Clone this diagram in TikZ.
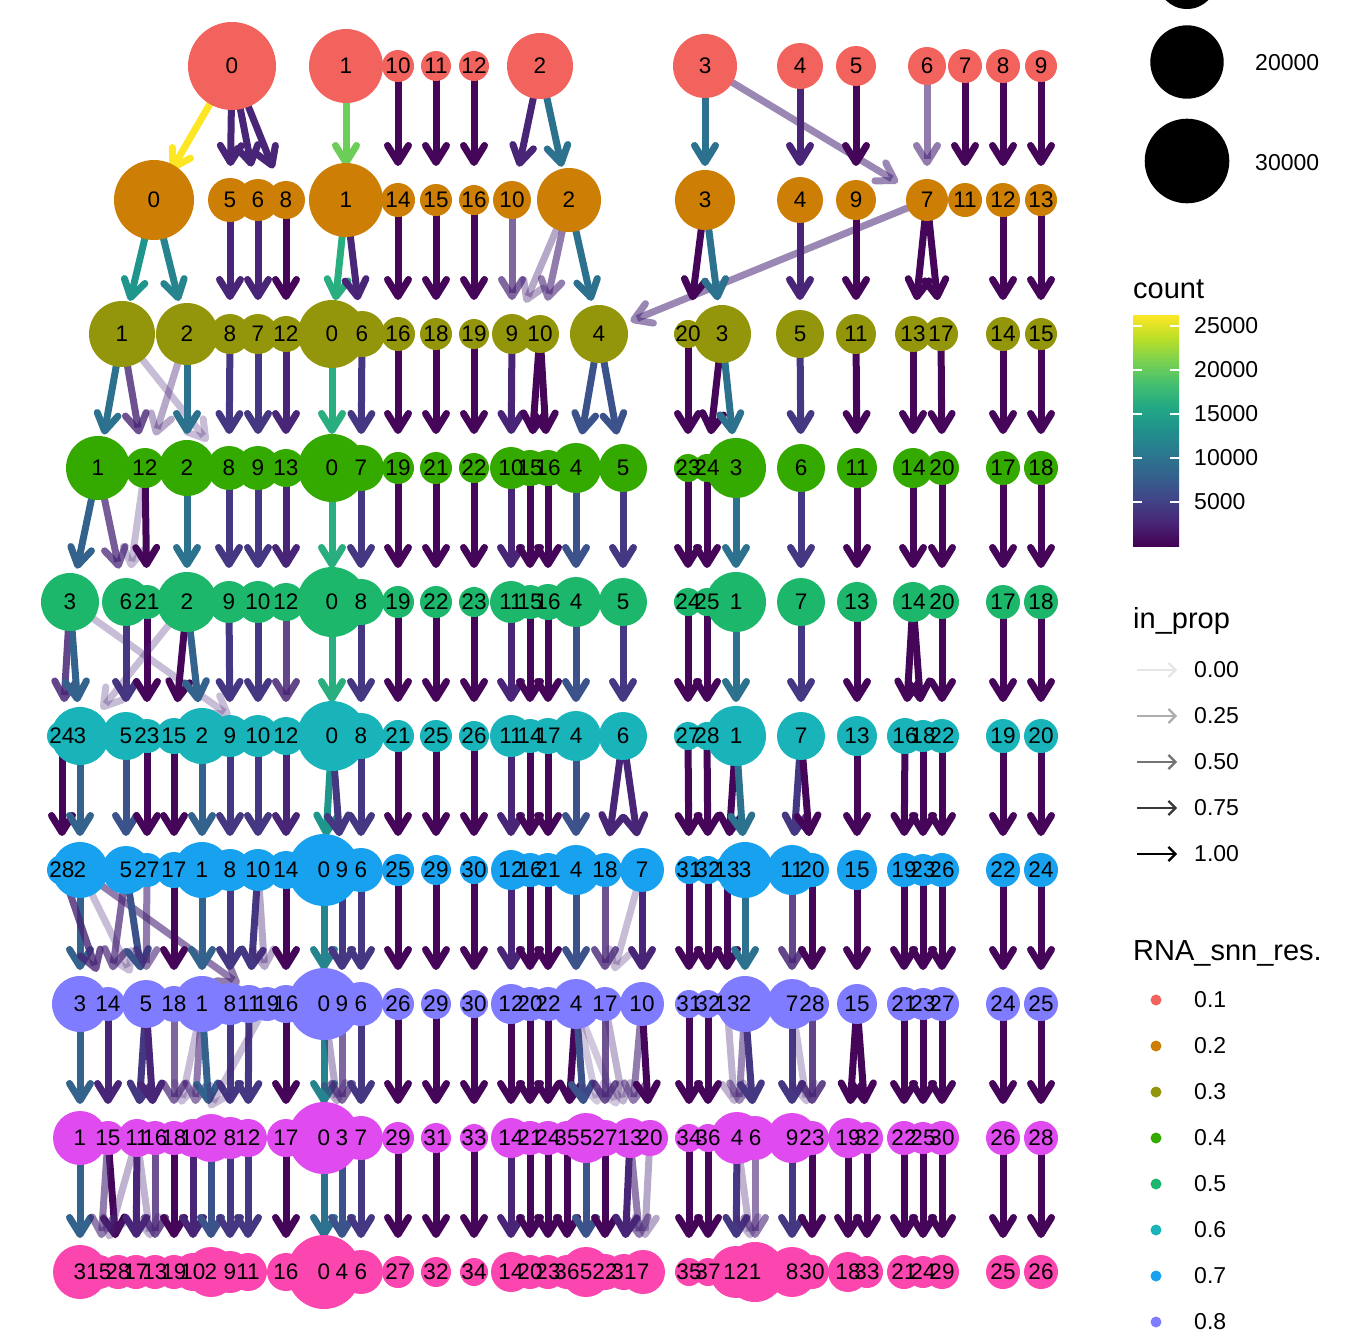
\documentclass[tikz,border=0pt]{standalone}
\usepackage{fontspec}
\setmainfont{Liberation Sans}
\usetikzlibrary{arrows.meta}
% row fills
\definecolor{rA}{HTML}{F3635E}
\definecolor{rB}{HTML}{CD7E05}
\definecolor{rC}{HTML}{93960A}
\definecolor{rD}{HTML}{34A900}
\definecolor{rE}{HTML}{1CB76B}
\definecolor{rF}{HTML}{18B4BA}
\definecolor{rG}{HTML}{17A1EF}
\definecolor{rH}{HTML}{807CFF}
\definecolor{rI}{HTML}{DF4BEF}
\definecolor{rJ}{HTML}{FB46B0}
% edge colours (viridis)
\definecolor{c0}{HTML}{45065A}
\definecolor{c1}{HTML}{482576}
\definecolor{c2}{HTML}{453781}
\definecolor{c3}{HTML}{3B528B}
\definecolor{c4}{HTML}{33638D}
\definecolor{c5}{HTML}{2C728E}
\definecolor{c6}{HTML}{25848E}
\definecolor{c7}{HTML}{1F968B}
\definecolor{c8}{HTML}{29AF7F}
\definecolor{c9}{HTML}{6CCE59}
\definecolor{c10}{HTML}{FDE725}
\definecolor{v0}{HTML}{440154}
\definecolor{v1}{HTML}{482576}
\definecolor{v2}{HTML}{414487}
\definecolor{v3}{HTML}{35608D}
\definecolor{v4}{HTML}{2A788E}
\definecolor{v5}{HTML}{21908C}
\definecolor{v6}{HTML}{22A884}
\definecolor{v7}{HTML}{43BF71}
\definecolor{v8}{HTML}{7AD151}
\definecolor{v9}{HTML}{BBDF27}
\definecolor{v10}{HTML}{FDE725}
\pgfdeclareverticalshading{viridis}{100bp}{color(0bp)=(v0); color(25bp)=(v0); color(30bp)=(v1); color(35bp)=(v2); color(40bp)=(v3); color(45bp)=(v4); color(50bp)=(v5); color(55bp)=(v6); color(60bp)=(v7); color(65bp)=(v8); color(70bp)=(v9); color(75bp)=(v10); color(100bp)=(v10)}
\tikzset{
  nd/.style={circle, inner sep=0pt, draw=none},
  lb/.style={font=\fontsize{22.5}{22.5}\selectfont, inner sep=0pt, text=black},
  edge/.style={line width=7pt, shorten >=34pt, -{Straight Barb[length=17pt,width=21pt,round]}},
  legtitle/.style={font=\fontsize{29}{29}\selectfont, inner sep=0pt, anchor=base west},
  legtext/.style={font=\fontsize{23}{23}\selectfont, inner sep=0pt, anchor=west},
  legarrow/.style={line width=2.2pt, -{Straight Barb[length=7pt,width=14pt]}},
}
% node lists: name/x/radius
\def\LA{0/232/44, 1/346/37, 10/398/16, 11/436/15, 12/474/15, 2/540/33, 3/705/32, 4/800/23, 5/856/20, 6/927/19, 7/965/17, 8/1003/17, 9/1041/16}
\def\LB{0/154/40, 5/230/22, 6/258/21, 8/286/19, 1/346/37, 14/398/17, 15/436/16, 16/474/15, 10/512/19, 2/569/32, 3/705/30, 4/800/23, 9/856/20, 7/927/21, 11/965/17, 12/1003/17, 13/1041/16}
\def\LC{1/122/33, 2/187/31, 8/230/20, 7/258/20, 12/286/18, 0/332/34, 6/362/23, 16/398/17, 18/436/16, 19/474/15, 9/512/20, 10/540/19, 4/599/29, 20/688/14, 3/722/29, 5/800/24, 11/856/20, 13/913/18, 17/941/17, 14/1003/17, 15/1041/16}
\def\LD{1/98/32, 12/145/20, 2/187/28, 8/229/22, 9/258/22, 13/286/19, 0/332/34, 7/361/23, 19/398/16, 21/436/16, 22/474/15, 10/511/21, 15/530/18, 16/548/18, 4/576/25, 5/623/24, 23/688/14, 24/707/14, 3/736/30, 6/801/24, 11/857/20, 14/913/20, 20/942/17, 17/1003/17, 18/1041/17}
\def\LE{3/70/29, 6/126/24, 21/147/17, 2/187/30, 9/229/21, 10/258/21, 12/286/19, 0/332/35, 8/361/23, 19/398/16, 22/436/16, 23/474/15, 11/511/21, 15/530/17, 16/548/18, 4/576/25, 5/623/24, 24/688/14, 25/707/14, 1/736/30, 7/801/24, 13/857/20, 14/913/20, 20/942/17, 17/1003/17, 18/1041/17}
\def\LF{24/62/15, 3/80/29, 5/126/24, 23/147/17, 15/174/18, 2/202/28, 9/230/21, 10/258/21, 12/286/19, 0/332/35, 8/361/23, 21/398/16, 25/436/16, 26/474/15, 11/511/21, 14/530/17, 17/548/18, 4/576/25, 6/623/24, 27/688/14, 28/707/14, 1/736/30, 7/801/24, 13/857/20, 16/905/18, 18/923/16, 22/942/17, 19/1003/17, 20/1041/17}
\def\LG{28/62/15, 2/80/28, 5/126/24, 27/147/17, 17/174/18, 1/202/28, 8/230/21, 10/258/21, 14/286/19, 0/324/36, 9/342/20, 6/361/22, 25/398/16, 29/436/15, 30/474/14, 12/511/20, 16/530/17, 21/548/17, 4/576/25, 18/605/17, 7/642/22, 31/689/14, 32/708/14, 13/727/14, 3/745/28, 11/792/25, 20/812/17, 15/857/20, 19/904/17, 23/923/16, 26/942/17, 22/1003/17, 24/1041/17}
\def\LH{3/80/28, 14/108/17, 5/146/24, 18/174/18, 1/202/28, 8/230/21, 11/249/19, 19/267/17, 16/286/19, 0/324/36, 9/342/20, 6/361/22, 26/398/16, 29/436/15, 30/474/14, 12/511/20, 20/530/17, 22/548/17, 4/576/25, 17/605/17, 10/642/22, 31/689/14, 32/708/14, 13/727/14, 2/745/28, 7/792/25, 28/812/17, 15/857/20, 21/904/17, 23/923/16, 27/942/17, 24/1003/17, 25/1041/17}
\def\LI{1/80/27, 15/108/17, 11/137/19, 16/155/17, 18/174/17, 10/193/19, 2/211/24, 8/230/21, 12/248/19, 17/286/19, 0/324/36, 3/342/20, 7/361/22, 29/398/16, 31/436/15, 33/474/14, 14/511/20, 21/530/17, 24/548/17, 35/567/17, 5/586/25, 27/605/18, 13/630/20, 20/650/18, 34/689/14, 36/708/14, 4/737/26, 6/755/22, 9/792/25, 23/812/17, 19/848/20, 32/867/16, 22/904/17, 25/923/16, 30/942/17, 26/1003/17, 28/1041/17}
\def\LJ{3/80/27, 15/99/17, 28/118/17, 17/136/17, 13/155/17, 19/174/17, 10/193/19, 2/211/25, 9/230/21, 11/248/19, 16/286/19, 0/324/37, 4/342/20, 6/361/22, 27/398/16, 32/436/15, 34/474/14, 14/511/20, 20/530/17, 23/548/17, 36/567/17, 5/586/25, 22/605/18, 31/624/18, 7/643/22, 35/689/14, 37/708/14, 12/736/26, 1/755/30, 8/792/25, 30/812/17, 18/848/20, 33/867/16, 21/904/17, 24/923/16, 29/942/17, 25/1003/17, 26/1041/17}
\newcommand{\rowcoords}[3]{\foreach \n/\x/\r in #3 {\coordinate (#1\n) at (\x,#2);}}
\newcommand{\rowcircles}[4]{\foreach \n/\x/\r in #3 {\node[nd, fill=#4, minimum size={2*\r*1pt}] (#1\n-c) at (\x,#2) {};}}
\newcommand{\rowlabels}[3]{\foreach \n/\x/\r in #3 {\node[lb] (#1\n-l) at (\x,#2) {\n};}}
\newcommand{\edgeset}[1]{\foreach \s/\t/\c/\o in {#1} {\draw[edge, draw=\c, draw opacity=\o] (\s) -- (\t);}}
\begin{document}
\begin{tikzpicture}[x=1pt,y=-1pt]
\useasboundingbox (0,0) rectangle (1344,1344);
\clip (0,0) rectangle (1344,1344);
% ---------- node centres ----------
\rowcoords{a}{66}{\LA}\rowcoords{b}{200}{\LB}\rowcoords{c}{334}{\LC}\rowcoords{d}{468}{\LD}\rowcoords{e}{602}{\LE}
\rowcoords{f}{736}{\LF}\rowcoords{g}{870}{\LG}\rowcoords{h}{1004}{\LH}\rowcoords{i}{1138}{\LI}\rowcoords{j}{1272}{\LJ}
% ---------- edges ----------
\edgeset{a0/b0/c10/1, a0/b5/c1/1, a0/b6/c1/1, a0/b8/c1/1, a1/b1/c9/1, a10/b14/c0/1, a11/b15/c0/1, a12/b16/c0/1, a2/b10/c1/1, a2/b2/c5/1, a3/b3/c5/1, a3/b7/c1/0.55, a4/b4/c1/1, a5/b9/c0/1, a6/b7/c1/0.6, a7/b11/c0/1, a8/b12/c0/1, a9/b13/c0/1}
\edgeset{b0/c1/c7/1, b0/c2/c6/1, b5/c8/c1/1, b6/c7/c1/1, b8/c12/c0/1, b1/c0/c8/1, b1/c6/c1/1, b14/c16/c0/1, b15/c18/c0/1, b16/c19/c0/1, b10/c9/c1/0.7, b2/c9/c1/0.4, b2/c10/c1/0.6, b2/c4/c5/1, b7/c4/c1/0.55, b3/c20/c0/1, b3/c3/c5/1, b4/c5/c1/1, b9/c11/c0/1, b7/c13/c0/1, b7/c17/c0/1, b12/c14/c0/1, b13/c15/c0/1}
\edgeset{c1/d1/c5/1, c1/d12/c1/0.8, c1/d8/c1/0.3, c2/d12/c1/0.4, c2/d2/c5/1, c8/d8/c2/1, c7/d9/c2/1, c12/d13/c1/1, c0/d0/c8/1, c6/d7/c2/1, c16/d19/c0/1, c18/d21/c0/1, c19/d22/c0/1, c9/d10/c1/1, c10/d15/c0/1, c10/d16/c0/1, c4/d4/c3/1, c4/d5/c3/1, c20/d23/c0/1, c3/d24/c0/1, c3/d3/c5/1, c5/d6/c2/1, c11/d11/c0/1, c13/d14/c0/1, c17/d20/c0/1, c14/d17/c0/1, c15/d18/c0/1}
\edgeset{d1/e3/c4/1, d1/e6/c1/0.75, d12/e6/c1/0.3, d12/e21/c0/1, d2/e2/c5/1, d8/e9/c2/1, d9/e10/c2/1, d13/e12/c1/1, d0/e0/c8/1, d7/e8/c2/1, d19/e19/c0/1, d21/e22/c0/1, d22/e23/c0/1, d10/e11/c1/1, d15/e15/c0/1, d16/e16/c0/1, d4/e4/c3/1, d5/e5/c2/1, d23/e24/c0/1, d24/e25/c0/1, d3/e1/c5/1, d6/e7/c2/1, d11/e13/c0/1, d14/e14/c0/1, d20/e20/c0/1, d17/e17/c0/1, d18/e18/c0/1}
\edgeset{e3/f24/c1/0.85, e3/f3/c4/1, e3/f10/c1/0.3, e6/f5/c2/1, e21/f23/c0/1, e2/f15/c0/1, e2/f2/c4/1, e2/f3/c1/0.3, e9/f9/c2/1, e10/f10/c2/1, e12/f12/c1/0.85, e0/f0/c8/1, e8/f8/c2/1, e19/f21/c0/1, e22/f25/c0/1, e23/f26/c0/1, e11/f11/c1/1, e15/f14/c0/1, e16/f17/c0/1, e4/f4/c3/1, e5/f6/c2/1, e24/f27/c0/1, e25/f28/c0/1, e1/f1/c5/1, e7/f7/c2/1, e13/f13/c0/1, e14/f16/c0/1, e14/f18/c0/1, e20/f22/c0/1, e17/f19/c0/1, e18/f20/c0/1}
\edgeset{f24/g28/c0/1, f3/g2/c4/1, f5/g5/c3/1, f23/g27/c0/1, f15/g17/c0/1, f2/g1/c4/1, f9/g8/c2/1, f10/g10/c2/1, f12/g14/c1/1, f0/g0/c7/1, f0/g9/c2/1, f8/g6/c2/1, f21/g25/c0/1, f25/g29/c0/1, f26/g30/c0/1, f11/g12/c1/1, f14/g16/c0/1, f17/g21/c0/1, f4/g4/c3/1, f6/g18/c1/1, f6/g7/c1/1, f27/g31/c0/1, f28/g32/c0/1, f1/g13/c0/1, f1/g3/c5/1, f7/g11/c2/1, f7/g20/c0/1, f13/g15/c0/1, f16/g19/c0/1, f18/g23/c0/1, f22/g26/c0/1, f19/g22/c0/1, f20/g24/c0/1}
\edgeset{g2/h3/c4/1, g2/h5/c1/0.3, g2/h19/c1/0.6, g28/h14/c1/0.8, g5/h14/c1/0.7, g5/h5/c3/1, g27/h5/c1/0.6, g17/h18/c0/1, g1/h1/c4/1, g8/h8/c2/1, g10/h11/c2/1, g10/h19/c1/0.4, g14/h16/c0/1, g0/h0/c6/1, g9/h9/c2/1, g6/h6/c2/1, g25/h26/c0/1, g29/h29/c0/1, g30/h30/c0/1, g12/h12/c1/1, g16/h20/c0/1, g21/h22/c0/1, g4/h4/c3/1, g18/h17/c1/0.8, g7/h17/c1/0.3, g7/h10/c1/1, g31/h31/c0/1, g32/h32/c0/1, g13/h13/c0/1, g3/h2/c5/1, g11/h7/c1/0.85, g20/h28/c0/1, g15/h15/c0/1, g19/h21/c0/1, g23/h23/c0/1, g26/h27/c0/1, g22/h24/c0/1, g24/h25/c0/1}
\edgeset{h3/i1/c4/1, h14/i15/c1/1, h5/i11/c2/1, h5/i16/c1/1, h18/i18/c1/0.7, h1/i10/c1/0.6, h1/i2/c4/1, h1/i18/c1/0.3, h8/i8/c2/1, h11/i12/c2/1, h19/i10/c1/0.3, h16/i17/c0/1, h0/i0/c6/1, h0/i3/c1/0.4, h9/i3/c1/0.7, h6/i7/c2/1, h26/i29/c0/1, h29/i31/c0/1, h30/i33/c0/1, h12/i14/c0/1, h20/i21/c0/1, h22/i24/c0/1, h4/i35/c0/1, h4/i5/c3/1, h4/i27/c1/0.25, h4/i13/c1/0.25, h17/i27/c1/0.8, h17/i13/c1/0.35, h10/i13/c1/0.6, h10/i20/c0/1, h31/i34/c0/1, h32/i36/c0/1, h13/i4/c1/0.35, h2/i4/c1/0.55, h2/i6/c2/1, h7/i9/c2/1, h7/i23/c1/0.3, h28/i23/c1/0.85, h15/i19/c0/1, h15/i32/c0/1, h21/i22/c0/1, h23/i25/c0/1, h27/i30/c0/1, h24/i26/c0/1, h25/i28/c0/1}
\edgeset{i1/j3/c4/1, i15/j28/c0/1, i15/j15/c1/0.6, i11/j17/c1/1, i11/j15/c1/0.35, i11/j13/c1/0.35, i16/j13/c1/0.8, i18/j19/c0/1, i10/j10/c1/1, i2/j2/c3/1, i8/j9/c2/1, i12/j11/c2/1, i17/j16/c0/1, i0/j0/c5/1, i3/j4/c3/1, i7/j6/c2/1, i29/j27/c0/1, i31/j32/c0/1, i33/j34/c0/1, i14/j14/c1/1, i21/j20/c0/1, i24/j23/c0/1, i35/j36/c0/1, i5/j5/c3/1, i27/j22/c0/1, i13/j31/c1/1, i13/j7/c1/0.6, i20/j7/c1/0.4, i34/j35/c0/1, i36/j37/c0/1, i4/j12/c2/1, i4/j1/c1/0.35, i6/j1/c1/0.6, i9/j8/c2/1, i23/j30/c0/1, i19/j18/c0/1, i32/j33/c0/1, i22/j21/c0/1, i25/j24/c0/1, i30/j29/c0/1, i26/j25/c0/1, i28/j26/c0/1}
% ---------- circles ----------
\rowcircles{a}{66}{\LA}{rA}\rowcircles{b}{200}{\LB}{rB}\rowcircles{c}{334}{\LC}{rC}\rowcircles{d}{468}{\LD}{rD}\rowcircles{e}{602}{\LE}{rE}
\rowcircles{f}{736}{\LF}{rF}\rowcircles{g}{870}{\LG}{rG}\rowcircles{h}{1004}{\LH}{rH}\rowcircles{i}{1138}{\LI}{rI}\rowcircles{j}{1272}{\LJ}{rJ}
% ---------- labels ----------
\rowlabels{a}{66}{\LA}\rowlabels{b}{200}{\LB}\rowlabels{c}{334}{\LC}\rowlabels{d}{468}{\LD}\rowlabels{e}{602}{\LE}
\rowlabels{f}{736}{\LF}\rowlabels{g}{870}{\LG}\rowlabels{h}{1004}{\LH}\rowlabels{i}{1138}{\LI}\rowlabels{j}{1272}{\LJ}
% ---------- legend: size ----------
\node[circle, fill=black, minimum size=60pt, inner sep=0] (s10) at (1187,-21) {};
\node[circle, fill=black, minimum size=73.4pt, inner sep=0] (s20) at (1187,62) {};
\node[circle, fill=black, minimum size=84.6pt, inner sep=0] (s30) at (1187,161) {};
\node[legtext] (s20l) at (1255,63) {20000};
\node[legtext] (s30l) at (1255,163) {30000};
% ---------- legend: count ----------
\node[legtitle] (ct) at (1133,298) {count};
\shade[shading=viridis] (1133,315) rectangle (1179,546);
\foreach \yy/\tt in {326/25000, 370/20000, 414/15000, 458/10000, 502/5000} {
  \draw[white, line width=1.3pt] (1133,\yy) -- (1142,\yy);
  \draw[white, line width=1.3pt] (1170,\yy) -- (1179,\yy);
  \node[legtext] (ct\tt) at (1194,\yy) {\tt};
}
% ---------- legend: in_prop ----------
\node[legtitle] (ip) at (1133,628) {in\_prop};
\foreach \yy/\tt/\gg in {670/0.00/90, 716/0.25/68, 762/0.50/45, 808/0.75/22, 854/1.00/0} {
  \coordinate (ipa\yy) at (1137,\yy);
  \coordinate (ipb\yy) at (1177,\yy);
  \draw[legarrow, draw=white!\gg!black] (ipa\yy) -- (ipb\yy);
  \node[legtext] (ipl\yy) at (1194,\yy) {\tt};
}
% ---------- legend: resolution ----------
\node[legtitle] (rt) at (1133,960) {RNA\_snn\_res.};
\foreach \yy/\tt/\cc in {1000/0.1/rA, 1046/0.2/rB, 1092/0.3/rC, 1138/0.4/rD, 1184/0.5/rE, 1230/0.6/rF, 1276/0.7/rG, 1322/0.8/rH} {
  \node[circle, fill=\cc, minimum size=11pt, inner sep=0] (rd\yy) at (1156,\yy) {};
  \node[legtext] (rl\yy) at (1194,\yy) {\tt};
}
\end{tikzpicture}
\end{document}
